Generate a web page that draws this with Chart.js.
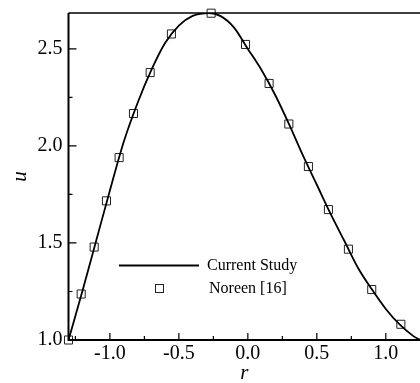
<!DOCTYPE html>
<html>
<head>
<meta charset="utf-8">
<script src="https://cdn.jsdelivr.net/npm/chart.js@4.4.1/dist/chart.umd.min.js"></script>
<style>
  html, body { margin: 0; padding: 0; background: #fff; overflow: hidden; }
  /* canvas is a bit wider than the window: the right frame edge sits just past it */
  #wrap { width: 420px; height: 383px; overflow: hidden; }
</style>
</head>
<body>
<div id="wrap"><canvas id="c" width="427" height="383"></canvas></div>
<script>
// current study: velocity profile u(r)
var studyR = [-1.30, -1.20, -1.10, -1.00, -0.90, -0.80, -0.70, -0.60, -0.50, -0.40, -0.28,
              -0.20, -0.10, 0.00, 0.10, 0.20, 0.30, 0.40, 0.50, 0.60, 0.70, 0.80, 0.90,
              1.00, 1.10, 1.20, 1.25];
var studyU = [1.00, 1.25, 1.51, 1.77, 2.02, 2.22, 2.39, 2.53, 2.62, 2.67, 2.685,
              2.67, 2.61, 2.50, 2.39, 2.26, 2.11, 1.95, 1.80, 1.65, 1.51, 1.37, 1.26,
              1.16, 1.08, 1.02, 1.00];

// Noreen [16] reference points
var noreenR = [-1.30, -1.208, -1.114, -1.025, -0.933, -0.829, -0.708, -0.554, -0.266,
               -0.017, 0.154, 0.297, 0.439, 0.584, 0.729, 0.898, 1.109];
var noreenU = [1.00, 1.237, 1.479, 1.717, 1.940, 2.167, 2.378, 2.577, 2.684,
               2.523, 2.322, 2.113, 1.894, 1.672, 1.468, 1.260, 1.081];

var xTicks = [-1.0, -0.5, 0.0, 0.5, 1.0];
var xMinor = [-1.25, -0.75, -0.25, 0.25, 0.75];
var yTicks = [1.0, 1.5, 2.0, 2.5];
var yMinor = [1.25, 1.75, 2.25];

var legendLabels = ['Current Study', 'Noreen [16]'];

function pairs(xs, ys) {
  return xs.map(function (x, i) { return { x: x, y: ys[i] }; });
}

var serif = '"Liberation Serif", "DejaVu Serif", serif';

/* axis frame, inward ticks and the legend box */
var framePlugin = {
  id: 'frame',
  afterDraw: function (chart) {
    var ctx = chart.ctx;
    var a = chart.chartArea;
    var xs = chart.scales.x, ys = chart.scales.y;
    ctx.save();
    ctx.strokeStyle = '#000';
    ctx.lineWidth = 2;
    ctx.beginPath();
    ctx.moveTo(a.left, a.top);
    ctx.lineTo(a.left, a.bottom);
    ctx.lineTo(a.right, a.bottom);
    ctx.stroke();
    ctx.lineWidth = 1.5;
    ctx.beginPath();
    ctx.moveTo(a.left, a.top);
    ctx.lineTo(a.right, a.top);
    ctx.stroke();

    ctx.lineWidth = 1.2;
    ctx.beginPath();
    xTicks.forEach(function (v) {
      var px = xs.getPixelForValue(v);
      ctx.moveTo(px, a.bottom); ctx.lineTo(px, a.bottom - 7);
    });
    xMinor.forEach(function (v) {
      var px = xs.getPixelForValue(v);
      ctx.moveTo(px, a.bottom); ctx.lineTo(px, a.bottom - 4);
    });
    yTicks.forEach(function (v) {
      var py = ys.getPixelForValue(v);
      ctx.moveTo(a.left, py); ctx.lineTo(a.left + 8, py);
    });
    yMinor.forEach(function (v) {
      var py = ys.getPixelForValue(v);
      ctx.moveTo(a.left, py); ctx.lineTo(a.left + 4, py);
    });
    ctx.stroke();

    // legend
    ctx.lineWidth = 1.8;
    ctx.beginPath();
    ctx.moveTo(119, 265.5);
    ctx.lineTo(199, 265.5);
    ctx.stroke();
    ctx.lineWidth = 1;
    ctx.strokeStyle = '#222';
    ctx.strokeRect(155.5, 284.5, 8, 8);
    ctx.fillStyle = '#000';
    ctx.font = '16px ' + serif;
    ctx.textBaseline = 'middle';
    ctx.fillText(legendLabels[0], 207, 266);
    ctx.fillText(legendLabels[1], 209, 289);
    ctx.restore();
  }
};

new Chart(document.getElementById('c'), {
  type: 'scatter',
  data: {
    datasets: [
      {
        label: legendLabels[0],
        data: pairs(studyR, studyU),
        showLine: true,
        borderColor: '#000',
        borderWidth: 1.8,
        pointRadius: 0,
        cubicInterpolationMode: 'monotone',
        fill: false
      },
      {
        label: legendLabels[1],
        data: pairs(noreenR, noreenU),
        showLine: false,
        pointStyle: 'rect',
        pointRadius: 5.7,
        pointBorderWidth: 1,
        pointBorderColor: '#222',
        pointBackgroundColor: 'rgba(0,0,0,0)',
        clip: false
      }
    ]
  },
  options: {
    responsive: false,
    animation: false,
    events: [],
    layout: { padding: { top: 13, right: 0, left: 0, bottom: 0 } },
    plugins: { legend: { display: false }, tooltip: { enabled: false } },
    scales: {
      x: {
        type: 'linear',
        min: -1.3,
        max: 1.25,
        afterBuildTicks: function (s) { s.ticks = xTicks.map(function (v) { return { value: v }; }); },
        afterFit: function (s) { s.height = 43; s.paddingLeft = 0; s.paddingRight = 0; },
        grid: { display: false, drawTicks: false },
        border: { display: false },
        ticks: {
          padding: 2,
          color: '#000',
          font: { family: serif, size: 20 },
          callback: function (v) { return v.toFixed(1); }
        },
        title: {
          display: true,
          text: 'r',
          color: '#000',
          padding: { top: 0, bottom: -3 },
          font: { family: serif, size: 21, style: 'italic' }
        }
      },
      y: {
        type: 'linear',
        min: 1.0,
        max: 2.685,
        afterBuildTicks: function (s) { s.ticks = yTicks.map(function (v) { return { value: v }; }); },
        afterFit: function (s) { s.width = 68.5; s.paddingTop = 0; s.paddingBottom = 0; },
        grid: { display: false, drawTicks: false },
        border: { display: false },
        ticks: {
          padding: 6,
          color: '#000',
          font: { family: serif, size: 20 },
          callback: function (v) { return v.toFixed(1); }
        },
        title: {
          display: true,
          text: 'u',
          color: '#000',
          padding: { top: 8, bottom: 0 },
          font: { family: serif, size: 21, style: 'italic' }
        }
      }
    }
  },
  plugins: [framePlugin]
});
</script>
</body>
</html>
